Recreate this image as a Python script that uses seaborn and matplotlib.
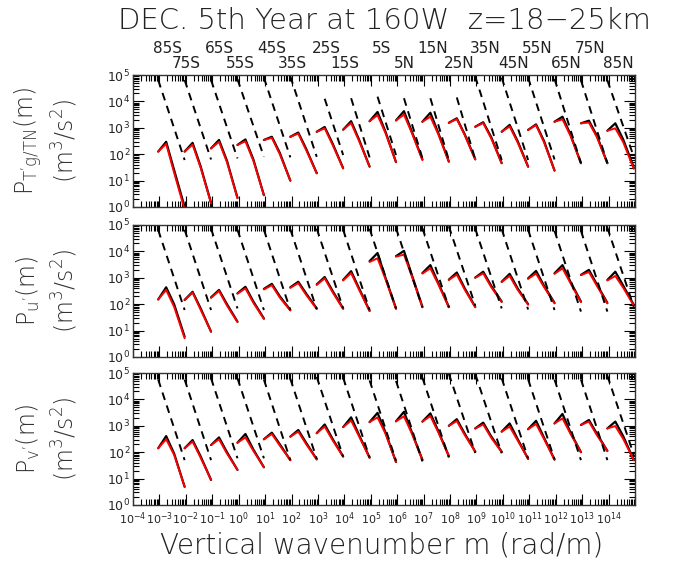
import numpy as np
import pandas as pd
import matplotlib
matplotlib.use("Agg")
import matplotlib.pyplot as plt
from matplotlib.ticker import FixedLocator, LogLocator, NullFormatter
from matplotlib.transforms import blended_transform_factory
import seaborn as sns

# latitudes, each spectrum is shifted one decade to the right of the previous
lats = ["85S", "75S", "65S", "55S", "45S", "35S", "25S", "15S", "5S",
        "5N", "15N", "25N", "35N", "45N", "55N", "65N", "75N", "85N"]

# vertical wavenumbers (rad/m) of the plotted points: k = 1, 2, 4, 10 x 2pi/7km
m_base = [9.0e-4, 1.8e-3, 3.6e-3, 9.0e-3]

# log10 of spectral density at m_base, one row per latitude
tg_black = [[2.10, 2.47, 1.40, 0.00], [2.10, 2.43, 1.55, 0.16], [2.22, 2.54, 1.75, 0.35],
            [2.35, 2.56, 1.80, 0.45], [2.54, 2.66, 2.05, 1.00], [2.66, 2.82, 2.20, 1.28],
            [2.85, 3.03, 2.40, 1.47], [2.93, 3.25, 2.55, 1.53], [3.25, 3.60, 2.85, 1.70],
            [3.28, 3.63, 2.85, 1.80], [3.23, 3.57, 2.80, 1.72], [3.19, 3.36, 2.75, 1.81],
            [3.04, 3.21, 2.65, 1.66], [2.85, 3.11, 2.50, 1.53], [2.92, 3.13, 2.50, 1.38],
            [3.23, 3.42, 2.75, 1.66], [3.17, 3.27, 2.70, 1.66], [2.89, 3.17, 2.55, 1.50]]
tg_red = [[2.10, 2.39, 1.30, -0.10], [2.10, 2.36, 1.50, 0.14], [2.22, 2.47, 1.70, 0.33],
          [2.35, 2.49, 1.75, 0.45], [2.54, 2.62, 2.00, 1.00], [2.66, 2.78, 2.15, 1.28],
          [2.85, 2.98, 2.35, 1.46], [2.93, 3.18, 2.50, 1.53], [3.25, 3.48, 2.80, 1.70],
          [3.28, 3.50, 2.80, 1.78], [3.23, 3.42, 2.75, 1.72], [3.19, 3.33, 2.72, 1.80],
          [3.04, 3.18, 2.60, 1.66], [2.85, 3.05, 2.45, 1.52], [2.92, 3.10, 2.45, 1.38],
          [3.23, 3.32, 2.70, 1.66], [3.17, 3.20, 2.65, 1.66], [2.89, 2.98, 2.45, 1.45]]

u_black = [[2.18, 2.64, 2.00, 0.77], [2.16, 2.47, 1.85, 0.96], [2.26, 2.54, 2.00, 1.34],
           [2.41, 2.66, 2.10, 1.46], [2.58, 2.77, 2.30, 1.78], [2.64, 2.85, 2.40, 1.84],
           [2.75, 3.03, 2.50, 1.84], [2.92, 3.25, 2.60, 1.75], [3.63, 3.94, 3.00, 1.84],
           [3.82, 4.02, 3.10, 1.90], [3.18, 3.48, 2.80, 1.90], [2.93, 3.20, 2.60, 1.90],
           [3.01, 3.23, 2.70, 2.10], [2.85, 3.15, 2.60, 2.00], [2.98, 3.26, 2.70, 2.05],
           [3.17, 3.48, 2.85, 2.10], [3.11, 3.30, 2.75, 2.05], [2.92, 3.23, 2.70, 1.97]]
u_red = [[2.18, 2.54, 1.90, 0.71], [2.16, 2.44, 1.80, 0.96], [2.24, 2.50, 1.95, 1.32],
         [2.40, 2.60, 2.05, 1.44], [2.56, 2.72, 2.25, 1.76], [2.62, 2.80, 2.35, 1.82],
         [2.73, 2.98, 2.45, 1.82], [2.90, 3.18, 2.55, 1.74], [3.60, 3.74, 2.95, 1.82],
         [3.80, 3.88, 3.05, 1.88], [3.16, 3.36, 2.75, 1.88], [2.92, 3.12, 2.55, 1.88],
         [3.00, 3.17, 2.65, 2.08], [2.84, 3.07, 2.55, 1.98], [2.96, 3.16, 2.65, 2.03],
         [3.15, 3.36, 2.80, 2.08], [3.10, 3.22, 2.70, 2.03], [2.90, 3.07, 2.62, 1.95]]

v_black = [[2.15, 2.61, 1.95, 0.69], [2.15, 2.46, 1.85, 0.95], [2.27, 2.56, 2.00, 1.33],
           [2.36, 2.69, 2.10, 1.43], [2.49, 2.74, 2.30, 1.70], [2.59, 2.84, 2.35, 1.73],
           [2.72, 3.05, 2.50, 1.84], [2.95, 3.32, 2.65, 1.80], [3.14, 3.49, 2.75, 1.63],
           [3.17, 3.53, 2.75, 1.71], [3.16, 3.47, 2.80, 1.85], [3.00, 3.25, 2.70, 2.02],
           [2.90, 3.12, 2.60, 2.02], [2.78, 3.09, 2.50, 1.75], [2.87, 3.19, 2.55, 1.72],
           [3.09, 3.45, 2.75, 2.00], [3.03, 3.22, 2.70, 2.05], [2.90, 3.16, 2.60, 1.70]]
v_red = [[2.15, 2.49, 1.90, 0.69], [2.15, 2.40, 1.80, 0.95], [2.27, 2.49, 1.95, 1.33],
         [2.36, 2.56, 2.05, 1.43], [2.49, 2.69, 2.25, 1.70], [2.59, 2.78, 2.30, 1.73],
         [2.72, 2.97, 2.45, 1.83], [2.95, 3.20, 2.60, 1.78], [3.14, 3.32, 2.70, 1.63],
         [3.17, 3.36, 2.70, 1.70], [3.16, 3.37, 2.75, 1.85], [3.00, 3.18, 2.65, 2.02],
         [2.90, 3.05, 2.55, 2.00], [2.78, 2.97, 2.45, 1.75], [2.87, 3.07, 2.50, 1.72],
         [3.09, 3.28, 2.70, 2.00], [3.03, 3.16, 2.65, 2.05], [2.90, 2.99, 2.50, 1.70]]

# saturation (dashed) lines: index into m_base where they start, log10 start / end values
tg_sat_k = [0, 0, 0, 0, 0, 0, 1, 1, 1, 1, 1, 1, 0, 0, 0, 0, 0, 0]
tg_sat_start = [4.81, 4.81, 4.81, 4.84, 4.90, 4.95, 4.10, 4.12, 4.18,
                4.12, 4.12, 4.15, 4.94, 4.90, 4.90, 4.85, 4.80, 4.80]
tg_sat_end = [1.78, 1.80, 1.84, 1.90, 1.88, 1.90, 1.97, 1.88, 1.97,
              1.85, 1.78, 1.80, 1.78, 1.78, 1.80, 1.66, 1.66, 1.90]

u_sat_k = [0] * 18
u_sat_start = [4.81, 4.82, 4.86, 4.82, 4.82, 4.84, 4.86, 4.82, 4.86,
               4.88, 4.88, 4.95, 4.86, 4.84, 4.82, 4.78, 4.78, 4.90]
u_sat_end = [1.78, 1.78, 1.84, 1.78, 1.78, 1.81, 1.84, 1.78, 1.84,
             1.88, 1.88, 1.95, 1.84, 1.80, 1.78, 1.72, 1.72, 1.90]

v_sat_k = [0] * 18
v_sat_start = [4.75, 4.75, 4.80, 4.80, 4.75, 4.78, 4.85, 4.82, 4.72,
               4.70, 4.82, 4.97, 4.96, 4.80, 4.76, 4.75, 4.75, 4.90]
v_sat_end = [1.70, 1.70, 1.77, 1.77, 1.70, 1.75, 1.83, 1.80, 1.68,
             1.65, 1.80, 1.97, 1.96, 1.77, 1.73, 1.70, 1.70, 1.90]

# x position (log10 of m in axis units, relative to the latitude's decade) of the labels
label_shift = [-2.70, -3.00, -2.72, -2.94, -2.73, -2.96, -2.68, -2.98, -2.60,
               -2.71, -2.65, -2.66, -2.67, -2.61, -2.69, -2.62, -2.71, -2.64]

panel_labels = [r"P$_{\mathregular{T'g/TN}}$(m)", r"P$_{\mathregular{u'}}$(m)",
                r"P$_{\mathregular{v'}}$(m)"]


def spectra_frame(logp):
    rows = []
    for i, lat in enumerate(lats):
        for m, v in zip(m_base, logp[i]):
            rows.append({"lat": lat, "m": m * 10.0 ** i, "P": 10.0 ** v})
    return pd.DataFrame(rows)


def sat_frame(start_k, start, end):
    rows = []
    for i, lat in enumerate(lats):
        rows.append({"lat": lat, "m": m_base[start_k[i]] * 10.0 ** i, "P": 10.0 ** start[i]})
        rows.append({"lat": lat, "m": m_base[-1] * 10.0 ** i, "P": 10.0 ** end[i]})
    return pd.DataFrame(rows)


sns.set_theme(style="ticks")
plt.rcParams["font.family"] = ["DejaVu Sans"]
plt.rcParams["mathtext.default"] = "regular"

fig = plt.figure(figsize=(6.81, 5.62), dpi=100)
left, width, height = 133 / 681, 502 / 681, 132 / 562
bottoms = [1 - 207 / 562, 1 - 357 / 562, 1 - 505 / 562]

panels = [(tg_black, tg_red, tg_sat_k, tg_sat_start, tg_sat_end),
          (u_black, u_red, u_sat_k, u_sat_start, u_sat_end),
          (v_black, v_red, v_sat_k, v_sat_start, v_sat_end)]

for p, (black, red, sk, ss, se) in enumerate(panels):
    ax = fig.add_axes([left, bottoms[p], width, height])
    ax.set_xscale("log")
    ax.set_yscale("log")
    sns.lineplot(data=spectra_frame(black), x="m", y="P", units="lat", estimator=None,
                 sort=False, color="black", lw=1.6, ax=ax)
    sns.lineplot(data=spectra_frame(red), x="m", y="P", units="lat", estimator=None,
                 sort=False, color="red", lw=1.4, ax=ax)
    sns.lineplot(data=sat_frame(sk, ss, se), x="m", y="P", units="lat", estimator=None,
                 sort=False, color="black", lw=1.4, linestyle=(0, (4, 3)), ax=ax)
    ax.set_xlim(1e-4, 1e15)
    ax.set_ylim(1, 1e5)
    ax.set_xlabel("")
    ax.set_ylabel("")

    ax.xaxis.set_major_locator(FixedLocator([10.0 ** e for e in range(-4, 16)]))
    ax.xaxis.set_minor_locator(LogLocator(base=10, subs=np.arange(2, 10), numticks=200))
    ax.yaxis.set_major_locator(FixedLocator([10.0 ** e for e in range(0, 6)]))
    ax.yaxis.set_minor_locator(LogLocator(base=10, subs=np.arange(2, 10), numticks=50))
    ax.set_yticklabels([f"$10^{{{e}}}$" for e in range(0, 6)], fontsize=9)
    ax.yaxis.set_minor_formatter(NullFormatter())
    ax.xaxis.set_minor_formatter(NullFormatter())
    if p == 2:
        ax.set_xticklabels([f"$10^{{{e}}}$" if e < 15 else "" for e in range(-4, 16)],
                           fontsize=8)
    else:
        ax.set_xticklabels([])
    ax.tick_params(which="both", direction="in", top=True, right=True,
                   color="black", width=0.8)
    ax.tick_params(which="major", length=8, pad=2)
    ax.tick_params(axis="x", which="major", pad=4)
    ax.tick_params(which="minor", length=4)
    for s in ax.spines.values():
        s.set_linewidth(1.0)
        s.set_color("#333333")

    fig.text(0.042, bottoms[p] + height / 2, panel_labels[p], rotation=90,
             ha="center", va="center", fontsize=17, color="#333333", fontweight="light")
    fig.text(0.095, bottoms[p] + height / 2, r"(m$^3$/s$^2$)", rotation=90,
             ha="center", va="center", fontsize=17, color="#333333", fontweight="light")

    if p == 0:
        trans = blended_transform_factory(ax.transData, ax.transAxes)
        for i, lat in enumerate(lats):
            y = 1.20 if i % 2 == 0 else 1.087
            ax.text(10.0 ** (i + label_shift[i]), y, lat, transform=trans, ha="center",
                    va="center", fontsize=11, color="#222222", clip_on=False)

fig.text(0.565, 0.9635, "DEC. 5th Year at 160W  z=18\u221225km", ha="center", va="center",
         fontsize=21, color="#222222", fontweight="light")
fig.text(0.56, 0.03, "Vertical wavenumber m (rad/m)", ha="center", va="center",
         fontsize=20, color="#222222", fontweight="light")

fig.savefig("out.png", dpi=100)
